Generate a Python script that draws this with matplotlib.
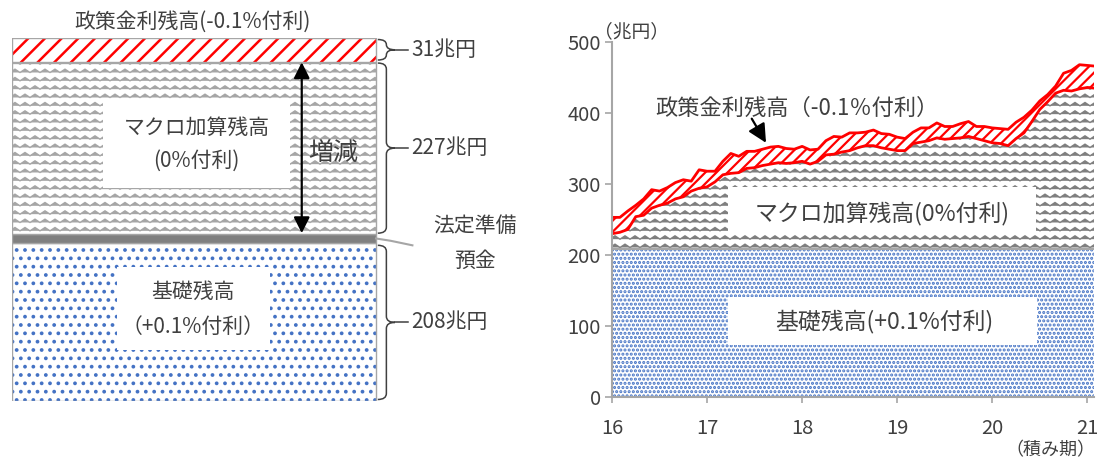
import numpy as np
import matplotlib.pyplot as plt
from matplotlib import hatch as mhatch
from matplotlib.path import Path
import matplotlib.patches as mpatches

plt.rcParams['font.family'] = ['Noto Sans CJK JP', 'DejaVu Sans']
plt.rcParams['hatch.linewidth'] = 1.5


# zigzag hatch (used in place of the '-' pattern)
class ZigZagHatch(mhatch.HatchPatternBase):
    def __init__(self, hatch, density):
        self.num_rows = int((hatch.count('-') + hatch.count('+')) * density)
        self.periods = max(1, int(round(self.num_rows * 0.85)))
        self.n = 2 * self.periods + 1
        self.num_vertices = self.num_rows * self.n

    def set_vertices_and_codes(self, vertices, codes):
        n = self.n
        xs = np.linspace(0, 1, n)
        amp = 0.4 / self.num_rows
        wave = np.where(np.arange(n) % 2 == 0, -amp / 2, amp / 2)
        for k in range(self.num_rows):
            sl = slice(k * n, (k + 1) * n)
            vertices[sl, 0] = xs
            vertices[sl, 1] = (k + 0.5) / self.num_rows + wave
            codes[sl] = Path.LINETO
            codes[k * n] = Path.MOVETO


mhatch._hatch_types[mhatch._hatch_types.index(mhatch.HorizontalHatch)] = ZigZagHatch

TXT = '#404040'
HLW = {'..': 1.5, '....': 1.5, '--': 1.0, '//': 1.8, '///': 1.6}

# ---- data: left diagram (兆円), bottom to top
left_names = ['基礎残高', '法定準備預金', 'マクロ加算残高', '政策金利残高']
left_values = [208, 12, 227, 31]

# ---- data: right chart (兆円), monthly reserve periods from 2016
start_year = 16
n_months = 62
basic_level = [208] * n_months
macro_top = [230, 232, 236, 254, 256, 266, 270, 273, 279, 282, 290, 294,
             296, 303, 313, 315, 316, 322, 323, 326, 328, 330, 329, 330,
             332, 328, 332, 341, 342, 345, 347, 351, 354, 354, 351, 349,
             347, 347, 357, 359, 361, 365, 363, 364, 365, 367, 364, 361,
             358, 357, 354, 364, 372, 388, 405, 416, 428, 432, 431, 434,
             436, 435]
total = [253, 253, 262, 270, 279, 292, 290, 295, 302, 306, 304, 320,
         318, 318, 332, 343, 339, 346, 346, 349, 352, 353, 350, 349,
         353, 348, 349, 361, 367, 366, 372, 372, 373, 376, 371, 370,
         366, 364, 373, 379, 379, 386, 381, 381, 385, 388, 381, 381,
         379, 378, 377, 387, 394, 404, 417, 426, 438, 456, 460, 468,
         467, 466]
months = start_year + np.arange(n_months) / 12

W, H = 1097, 457
fig = plt.figure(figsize=(W / 100, H / 100), dpi=100)

# ================= left diagram =================
ax1 = fig.add_axes([12 / W, 56 / H, 528 / W, 363 / H])
tot = sum(left_values)
ax1.set_xlim(0, 528 / 364)
ax1.set_ylim(0, tot)
ax1.axis('off')

bottoms = np.cumsum([0] + left_values[:-1])
styles = [dict(facecolor='white', edgecolor='#4472C4', hatch='..'),
          dict(facecolor='#808080', edgecolor='#808080', hatch=None),
          dict(facecolor='white', edgecolor='#A6A6A6', hatch='--'),
          dict(facecolor='white', edgecolor='#FF0000', hatch='//')]
for v, b, st in zip(left_values, bottoms, styles):
    with plt.rc_context({'hatch.linewidth': HLW.get(st['hatch'], 1.5)}):
        ax1.bar(0, v, bottom=b, width=1, align='edge', lw=0, **st)
    ax1.bar(0, v, bottom=b, width=1, align='edge', fill=False,
            edgecolor='#A6A6A6', lw=1)

# white label boxes
ax1.add_patch(mpatches.Rectangle((0.25, 281), 0.514, 117, fc='white', ec='none', zorder=3))
ax1.text(0.507, 360, 'マクロ加算残高', ha='center', va='center', fontsize=15, color=TXT, zorder=4)
ax1.text(0.507, 316, '(0%付利)', ha='center', va='center', fontsize=15, color=TXT, zorder=4)
ax1.add_patch(mpatches.Rectangle((0.288, 67), 0.42, 110, fc='white', ec='none', zorder=3))
ax1.text(0.498, 144, '基礎残高', ha='center', va='center', fontsize=15, color=TXT, zorder=4)
ax1.text(0.498, 98, '（+0.1%付利）', ha='center', va='center', fontsize=15, color=TXT, zorder=4)

ax1.text(0.497, 500, '政策金利残高(-0.1%付利)', ha='center', va='center',
         fontsize=15, color=TXT, clip_on=False)

# double arrow over macro segment
m_lo, m_hi = bottoms[2], bottoms[2] + left_values[2]
ax1.annotate('', xy=(0.796, m_hi - 1), xytext=(0.796, m_lo + 1),
             arrowprops=dict(arrowstyle='<|-|>', mutation_scale=24, lw=1.6,
                             color='black', shrinkA=0, shrinkB=0), zorder=5)
ax1.text(0.882, 326, '増減', ha='center', va='center', fontsize=18, color=TXT)


def brace(ax, y0, y1, label):
    x0, w, r = 1.005, 0.047, min(8, (y1 - y0) / 4)
    xm, ym = x0 + w / 2, (y0 + y1) / 2
    verts = [(x0, y1), (xm, y1), (xm, y1 - r), (xm, ym + r), (xm, ym),
             (x0 + w, ym), (xm, ym), (xm, ym - r), (xm, y0 + r), (xm, y0), (x0, y0)]
    codes = [Path.MOVETO, Path.CURVE3, Path.CURVE3, Path.LINETO, Path.CURVE3,
             Path.CURVE3, Path.CURVE3, Path.CURVE3, Path.LINETO, Path.CURVE3, Path.CURVE3]
    ax.add_patch(mpatches.PathPatch(Path(verts, codes), fc='none', ec='#404040',
                                    lw=1.1, clip_on=False))
    ax.plot([x0 + w, 1.088], [ym, ym], color='#404040', lw=1.1, clip_on=False)
    ax.text(1.097, ym, label, ha='left', va='center', fontsize=15, color=TXT)


brace(ax1, bottoms[3] + 2, tot - 2, f'{left_values[3]}兆円')
brace(ax1, bottoms[2] + 1, bottoms[3] - 2, f'{left_values[2]}兆円')
brace(ax1, 2, bottoms[1] - 3, f'{left_values[0]}兆円')

# legal reserve leader + label
r_mid = bottoms[1] + left_values[1] / 2
ax1.plot([1.0, 1.04, 1.10], [r_mid, r_mid - 3, r_mid - 9], color='#A6A6A6', lw=1.5)
ax1.text(1.272, 230, '法定準備', ha='center', va='center', fontsize=15, color=TXT)
ax1.text(1.272, 184, '預金', ha='center', va='center', fontsize=15, color=TXT)

# ================= right chart =================
ax2 = fig.add_axes([612 / W, 60 / H, 482 / W, 355 / H])
with plt.rc_context({'hatch.linewidth': HLW['....']}):
    ax2.fill_between(months, 0, basic_level, facecolor='white', edgecolor='#4472C4',
                     hatch='....', lw=0)
with plt.rc_context({'hatch.linewidth': HLW['--']}):
    ax2.fill_between(months, basic_level, macro_top, facecolor='white',
                     edgecolor='#7F7F7F', hatch='--', lw=0)
with plt.rc_context({'hatch.linewidth': HLW['///']}):
    ax2.fill_between(months, macro_top, total, facecolor='white',
                     edgecolor='#FF0000', hatch='///', lw=0)
ax2.plot(months, basic_level, color='#A6A6A6', lw=1.5)
ax2.plot(months, macro_top, color='#FF0000', lw=2)
ax2.plot(months, total, color='#FF0000', lw=2)

ax2.set_xlim(16, 21.07)
ax2.set_ylim(0, 500)
ax2.set_xticks(range(16, 22))
ax2.set_yticks(range(0, 501, 100))
ax2.tick_params(axis='y', length=5, width=1.2, color='#A6A6A6', labelcolor=TXT,
                labelsize=14.5, pad=3)
ax2.tick_params(axis='x', length=4, width=1.2, color='#A6A6A6', labelcolor=TXT,
                labelsize=14.5, pad=11)
for s in ['top', 'right']:
    ax2.spines[s].set_visible(False)
for s in ['left', 'bottom']:
    ax2.spines[s].set_color('#A6A6A6')
    ax2.spines[s].set_linewidth(1.5)

ax2.add_patch(mpatches.Rectangle((17.22, 230), 3.24, 66, fc='white', ec='none', zorder=3))
ax2.text(18.84, 258, 'マクロ加算残高(0%付利)', ha='center', va='center',
         fontsize=16.5, color=TXT, zorder=4)
ax2.add_patch(mpatches.Rectangle((17.22, 73), 3.25, 68, fc='white', ec='none', zorder=3))
ax2.text(18.86, 106, '基礎残高(+0.1%付利)', ha='center', va='center',
         fontsize=16.5, color=TXT, zorder=4)

ax2.text(17.95, 407, '政策金利残高（-0.1％付利）', ha='center', va='center',
         fontsize=16, color=TXT)
ax2.annotate('', xy=(17.62, 358), xytext=(17.47, 392),
             arrowprops=dict(arrowstyle='-|>', mutation_scale=28, lw=1.6,
                             color='black', shrinkA=0, shrinkB=0))

ax2.text(0.04, 1.03, '（兆円）', transform=ax2.transAxes, ha='center',
         va='center', fontsize=13.5, color=TXT)
ax2.text(0.91, -0.149, '（積み期）', transform=ax2.transAxes, ha='center',
         va='center', fontsize=13, color=TXT)

fig.savefig('out.png', dpi=100)
